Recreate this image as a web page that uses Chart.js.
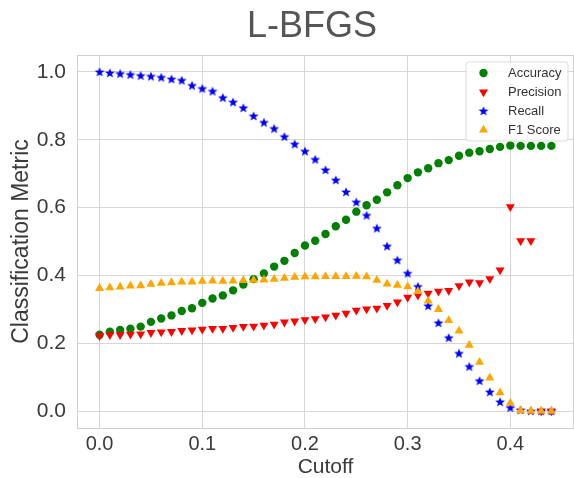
<!DOCTYPE html>
<html><head><meta charset="utf-8">
<script src="https://cdn.jsdelivr.net/npm/chart.js@4/dist/chart.umd.min.js"></script>
<style>html,body{margin:0;padding:0;background:#fff;overflow:hidden}#wrap{width:574px;height:478px}</style>
</head><body><div id="wrap"><canvas id="c" width="574" height="478"></canvas></div>
<script>
const chartTitle = 'L-BFGS';
const xAxisLabel = 'Cutoff';
const yAxisLabel = 'Classification Metric';
const seriesNames = ['Accuracy', 'Precision', 'Recall', 'F1 Score'];
const cutoffs = [0.00,0.01,0.02,0.03,0.04,0.05,0.06,0.07,0.08,0.09,
  0.10,0.11,0.12,0.13,0.14,0.15,0.16,0.17,0.18,0.19,
  0.20,0.21,0.22,0.23,0.24,0.25,0.26,0.27,0.28,0.29,
  0.30,0.31,0.32,0.33,0.34,0.35,0.36,0.37,0.38,0.39,
  0.40,0.41,0.42,0.43,0.44];
const accuracy = [0.225,0.234,0.239,0.243,0.249,0.263,0.273,0.282,0.295,0.303,
  0.319,0.332,0.341,0.356,0.373,0.389,0.406,0.426,0.443,0.466,
  0.488,0.502,0.522,0.545,0.564,0.588,0.607,0.623,0.645,0.666,
  0.687,0.704,0.716,0.731,0.740,0.753,0.762,0.766,0.773,0.779,
  0.783,0.782,0.782,0.782,0.782];
const precision = [0.222,0.225,0.225,0.226,0.227,0.231,0.233,0.234,0.237,0.239,
  0.241,0.243,0.243,0.246,0.249,0.250,0.253,0.256,0.262,0.265,
  0.269,0.272,0.277,0.282,0.288,0.297,0.301,0.303,0.311,0.321,
  0.335,0.341,0.347,0.353,0.355,0.369,0.380,0.378,0.390,0.416,
  0.602,0.502,0.502,0.0,0.0];
const recall = [1.000,0.997,0.995,0.992,0.989,0.987,0.984,0.979,0.975,0.960,
  0.951,0.943,0.924,0.911,0.894,0.870,0.851,0.833,0.809,0.787,
  0.766,0.742,0.711,0.681,0.646,0.616,0.577,0.539,0.486,0.445,
  0.406,0.367,0.310,0.260,0.216,0.170,0.131,0.089,0.056,0.027,
  0.010,0.003,0.0,0.0,0.0];
const f1Score = [0.362,0.364,0.366,0.369,0.370,0.374,0.377,0.379,0.381,0.381,
  0.383,0.384,0.383,0.384,0.385,0.386,0.387,0.389,0.392,0.395,
  0.396,0.396,0.397,0.397,0.397,0.398,0.396,0.386,0.375,0.371,
  0.367,0.353,0.325,0.300,0.267,0.236,0.194,0.144,0.098,0.054,
  0.023,0.001,0.0,0.0,0.0];
const xTicks = [0.0,0.1,0.2,0.3,0.4];
const xTickLabels = ['0.0','0.1','0.2','0.3','0.4'];
const yTicks = [0.0,0.2,0.4,0.6,0.8,1.0];
const yTickLabels = ['0.0','0.2','0.4','0.6','0.8','1.0'];

const FONT = '"Liberation Sans", Arial, Helvetica, sans-serif';
const TEXT = '#3a3a3a';
const GRID = '#d6d6d6';
const colors = ['#008000', '#ff0000', '#0000ff', '#ffa500'];

function makeStar(color) {
  const s = 12, c = document.createElement('canvas');
  c.width = s; c.height = s;
  const g = c.getContext('2d');
  const R = 5.2, r = 2.2, cx = s / 2, cy = s / 2 + 0.4;
  g.beginPath();
  for (let i = 0; i < 10; i++) {
    const a = -Math.PI / 2 + i * Math.PI / 5;
    const rr = i % 2 === 0 ? R : r;
    const px = cx + rr * Math.cos(a), py = cy + rr * Math.sin(a);
    if (i === 0) g.moveTo(px, py); else g.lineTo(px, py);
  }
  g.closePath(); g.fillStyle = color; g.fill();
  return c;
}
const starImg = makeStar(colors[2]);

function pts(ys) { return cutoffs.map((x, i) => ({x: x, y: ys[i]})); }

Chart.defaults.font.family = FONT;
Chart.defaults.color = TEXT;

const markerDefs = [
  {style: 'circle', radius: 4.2, rotation: 0},
  {style: 'triangle', radius: 5.2, rotation: 180},
  {style: starImg, radius: 5, rotation: 0},
  {style: 'triangle', radius: 5.2, rotation: 0}
];
const series = [accuracy, precision, recall, f1Score];

const datasets = series.map((ys, i) => ({
  label: seriesNames[i],
  data: pts(ys),
  pointStyle: markerDefs[i].style,
  pointRadius: markerDefs[i].radius,
  pointRotation: markerDefs[i].rotation,
  backgroundColor: colors[i],
  borderColor: colors[i],
  borderWidth: 0,
  pointBorderWidth: 0,
  showLine: false,
  order: 4 - i
}));

function drawMarker(ctx, i, x, y) {
  const m = markerDefs[i];
  ctx.save();
  ctx.fillStyle = colors[i];
  if (m.style === 'circle') {
    ctx.beginPath(); ctx.arc(x, y, m.radius, 0, Math.PI * 2); ctx.fill();
  } else if (m.style === 'triangle') {
    const r = m.radius;
    let rad = m.rotation * Math.PI / 180;
    ctx.beginPath();
    for (let k = 0; k < 3; k++) {
      const px = x + Math.sin(rad) * r, py = y - Math.cos(rad) * r;
      if (k === 0) ctx.moveTo(px, py); else ctx.lineTo(px, py);
      rad += 2 * Math.PI / 3;
    }
    ctx.closePath(); ctx.fill();
  } else {
    ctx.drawImage(m.style, x - m.style.width / 2, y - m.style.height / 2);
  }
  ctx.restore();
}

const decor = {
  id: 'decor',
  beforeDraw(chart) {
    const ctx = chart.ctx;
    ctx.save(); ctx.fillStyle = '#fff'; ctx.fillRect(0, 0, chart.width, chart.height); ctx.restore();
  },
  beforeDatasetsDraw(chart) {
    const a = chart.chartArea, ctx = chart.ctx;
    ctx.save(); ctx.strokeStyle = '#cfcfcf'; ctx.lineWidth = 1;
    ctx.strokeRect(Math.round(a.left) + 0.5, Math.round(a.top) + 0.5,
      Math.round(a.right - a.left) - 1, Math.round(a.bottom - a.top));
    ctx.restore();
  },
  afterDraw(chart) {
    const ctx = chart.ctx;
    ctx.save();
    // title
    ctx.fillStyle = '#555555';
    ctx.font = '36px ' + FONT;
    ctx.textAlign = 'center'; ctx.textBaseline = 'alphabetic';
    ctx.fillText(chartTitle, 312, 36.5);
    // legend
    const bx = 466, by = 62, bw = 102, bh = 79, rr = 3;
    ctx.beginPath();
    ctx.moveTo(bx + rr, by); ctx.lineTo(bx + bw - rr, by); ctx.quadraticCurveTo(bx + bw, by, bx + bw, by + rr);
    ctx.lineTo(bx + bw, by + bh - rr); ctx.quadraticCurveTo(bx + bw, by + bh, bx + bw - rr, by + bh);
    ctx.lineTo(bx + rr, by + bh); ctx.quadraticCurveTo(bx, by + bh, bx, by + bh - rr);
    ctx.lineTo(bx, by + rr); ctx.quadraticCurveTo(bx, by, bx + rr, by); ctx.closePath();
    ctx.fillStyle = 'rgba(255,255,255,0.85)'; ctx.fill();
    ctx.strokeStyle = '#dcdcdc'; ctx.lineWidth = 1; ctx.stroke();
    ctx.font = '13px ' + FONT; ctx.textAlign = 'left'; ctx.textBaseline = 'middle';
    seriesNames.forEach((name, i) => {
      const y = 73 + i * 19;
      drawMarker(ctx, i, 483.5, y);
      ctx.fillStyle = '#333';
      ctx.fillText(name, 508, y);
    });
    ctx.restore();
  }
};

new Chart(document.getElementById('c'), {
  type: 'scatter',
  data: {datasets: datasets},
  options: {
    responsive: false,
    devicePixelRatio: 1,
    animation: false,
    events: [],
    layout: {autoPadding: false, padding: {top: 55, right: 0, left: 0, bottom: 0}},
    plugins: {legend: {display: false}, tooltip: {enabled: false}, title: {display: false}},
    scales: {
      x: {
        type: 'linear', min: -0.022, max: 0.462,
        afterBuildTicks: s => { s.ticks = xTicks.map(v => ({value: v})); },
        afterFit: s => { s.height = 50; s.paddingRight = 0; s.paddingLeft = 0; },
        ticks: {callback: (v, i) => xTickLabels[i], font: {size: 20}, color: TEXT, padding: 4, maxRotation: 0, autoSkip: false},
        grid: {color: GRID, lineWidth: 1, drawTicks: false},
        border: {display: false},
        title: {display: true, text: xAxisLabel, font: {size: 21, lineHeight: 1}, color: TEXT, padding: {top: 0, bottom: 0}}
      },
      y: {
        type: 'linear', min: -0.05, max: 1.05,
        afterBuildTicks: s => { s.ticks = yTicks.map(v => ({value: v})); },
        afterFit: s => { s.width = 77; },
        ticks: {callback: (v, i) => yTickLabels[i], font: {size: 21}, color: TEXT, padding: 11, autoSkip: false},
        grid: {color: GRID, lineWidth: 1, drawTicks: false},
        border: {display: false},
        title: {display: true, text: yAxisLabel, font: {size: 23, lineHeight: 1}, color: TEXT, padding: {top: 10, bottom: 0}}
      }
    }
  },
  plugins: [decor]
});
</script>
</body></html>
